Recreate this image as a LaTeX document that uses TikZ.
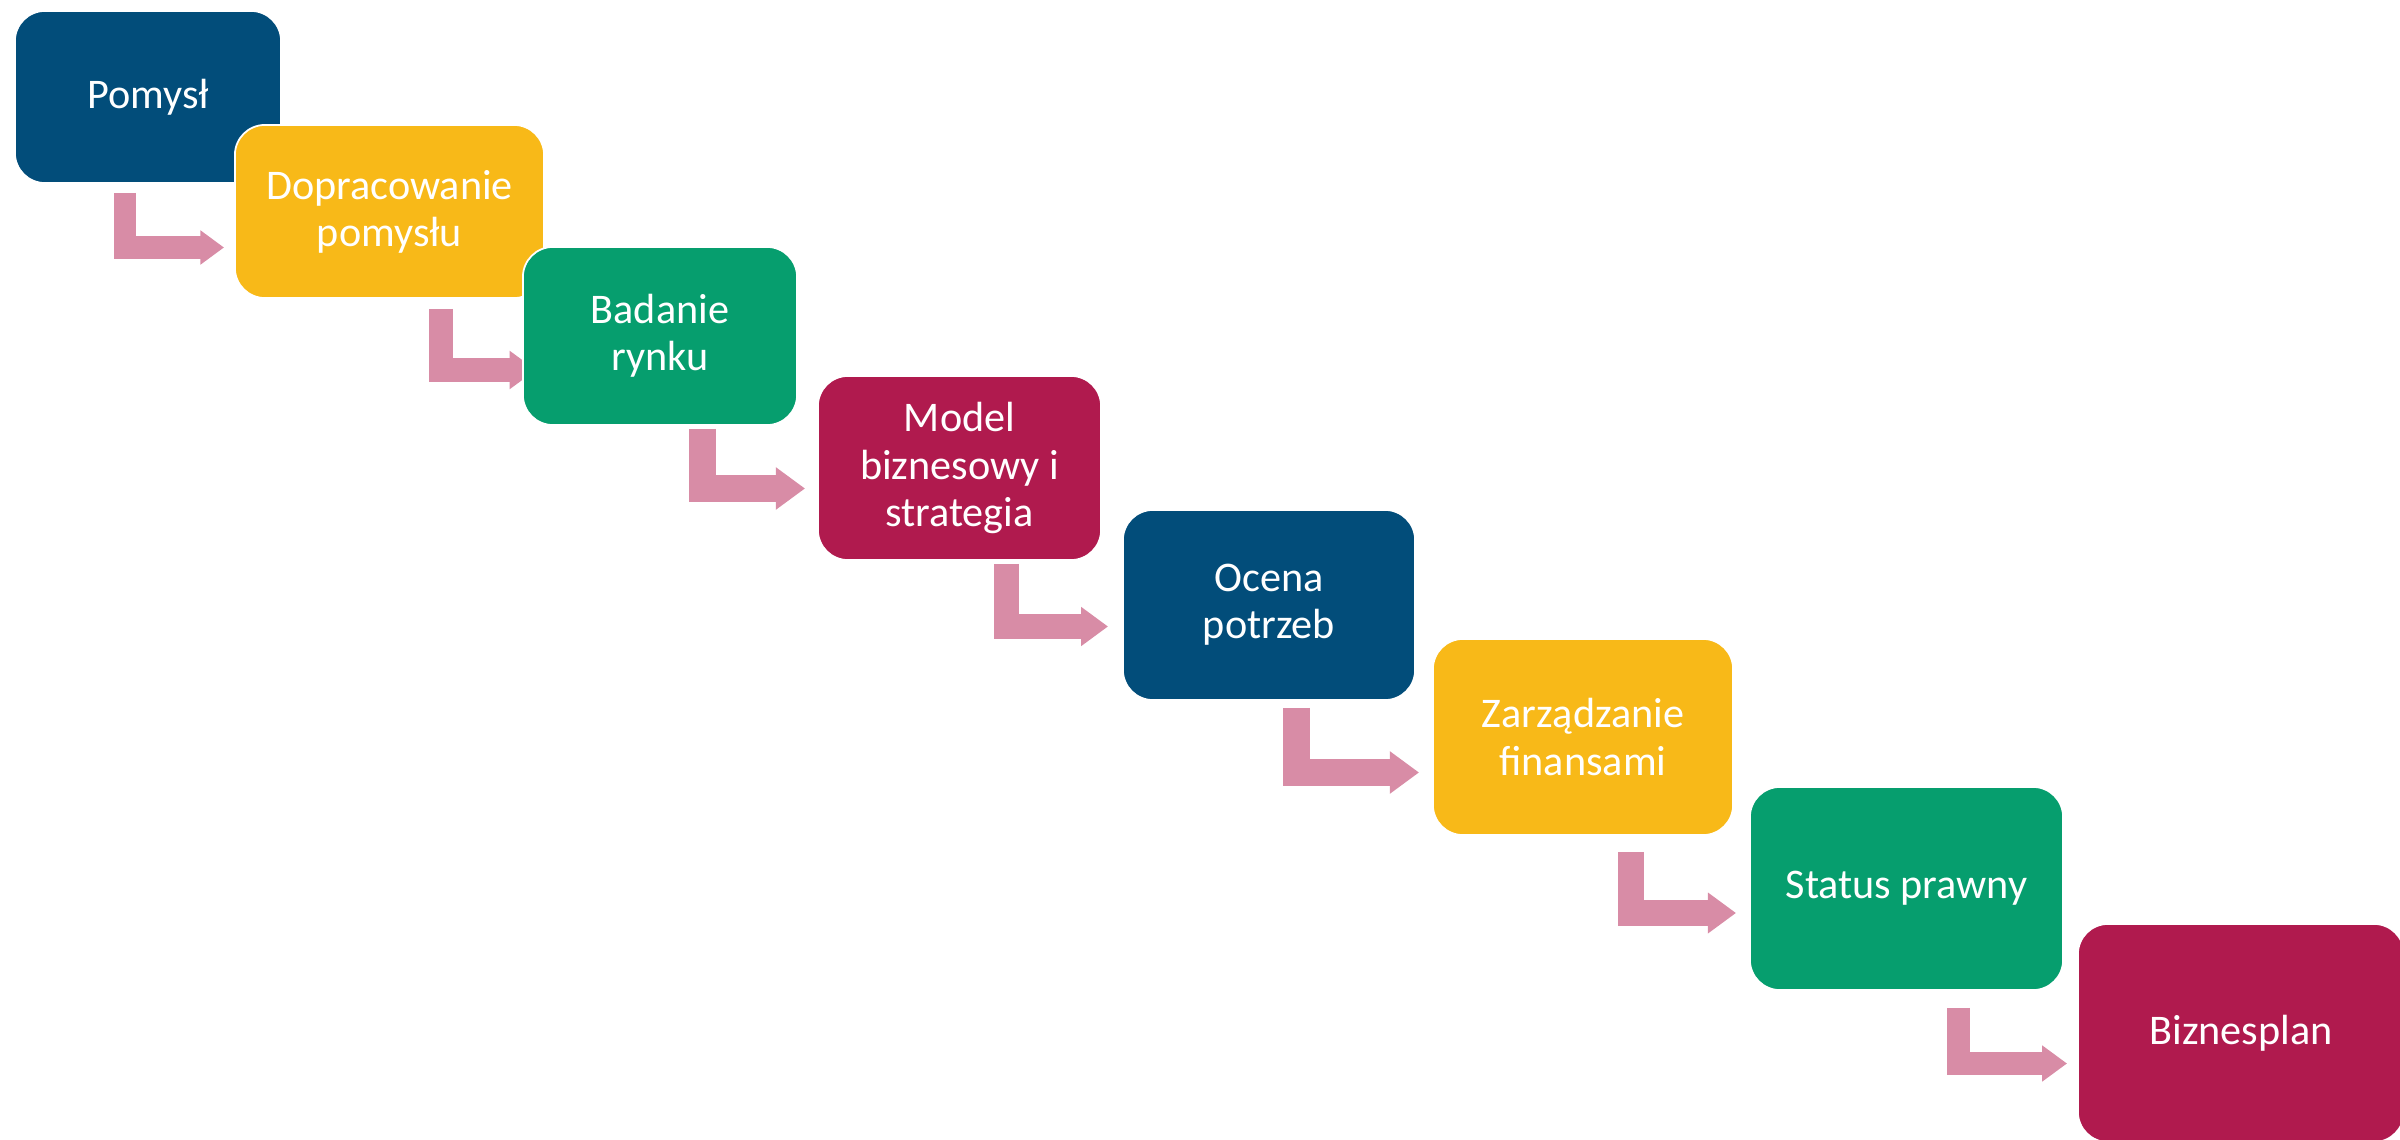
\documentclass[tikz,border=0pt]{standalone}
\usepackage{fontspec}
\setmainfont{Carlito}
\usetikzlibrary{arrows.meta,backgrounds}
\definecolor{stageblue}{RGB}{2,77,122}
\definecolor{stageyellow}{RGB}{248,185,24}
\definecolor{stagegreen}{RGB}{6,158,110}
\definecolor{stagered}{RGB}{176,26,78}
\definecolor{flowpink}{RGB}{216,140,166}
\begin{document}
\begin{tikzpicture}[x=0.01cm,y=-0.01cm]
    \tikzset{every node/.style={font=\fontsize{12pt}{13.4pt}\selectfont, text=white, align=center}}
    \tikzset{stage/.style n args={3}{rectangle, rounded corners=0.3cm, fill=#1, draw=white, line width=0.5pt, minimum width=#2, minimum height=#3, inner sep=0pt}}
    \tikzset{flow/.style={draw=flowpink, line width=0.25cm, line cap=butt, line join=miter, -{Triangle[width=0pt 1.5, length=0pt 1.08]}}}
    \useasboundingbox (0,0) rectangle (2400,1140);
    \node[stage={stageblue}{2.66cm}{1.72cm}] (pomysl) at (148,97) {Pomysł};
    \node[stage={stageyellow}{3.09cm}{1.73cm}] (dopracowanie) at (389.5,211.5) {Dopracowanie\\pomysłu};
    \node[stage={stagegreen}{2.74cm}{1.78cm}] (badanie) at (660,336) {Badanie\\rynku};
    \node[stage={stagered}{2.83cm}{1.84cm}] (model) at (959.5,468) {Model\\biznesowy i\\strategia};
    \node[stage={stageblue}{2.92cm}{1.90cm}] (ocena) at (1269,605) {Ocena\\potrzeb};
    \node[stage={stageyellow}{3.00cm}{1.96cm}] (finanse) at (1583,737) {Zarządzanie\\finansami};
    \node[stage={stagegreen}{3.13cm}{2.03cm}] (status) at (1906.5,888.5) {Status prawny};
    \node[stage={stagered}{3.26cm}{2.18cm}] (biznesplan) at (2241,1033) {Biznesplan};
    \begin{pgfonlayer}{background}
        \draw[flow, line width=0.22cm] ([shift={(111,9)}]pomysl.south west) |- ([shift={(-10,36)}]dopracowanie.west);
        \draw[flow, line width=0.245cm] ([shift={(207,10)}]dopracowanie.south west) |- ([shift={(14,34)}]badanie.west);
        \draw[flow, line width=0.27cm] ([shift={(180.5,3)}]badanie.south west) |- ([shift={(-12,20.5)}]model.west);
        \draw[flow, line width=0.25cm] ([shift={(189.5,3)}]model.south west) |- ([shift={(-14,21.5)}]ocena.west);
        \draw[flow, line width=0.27cm] ([shift={(174.5,7)}]ocena.south west) |- ([shift={(-13,35.5)}]finanse.west);
        \draw[flow, line width=0.26cm] ([shift={(199,16)}]finanse.south west) |- ([shift={(-13,24.5)}]status.west);
        \draw[flow, line width=0.23cm] ([shift={(209.5,17)}]status.south west) |- ([shift={(-10,30.5)}]biznesplan.west);
    \end{pgfonlayer}
\end{tikzpicture}
\end{document}
